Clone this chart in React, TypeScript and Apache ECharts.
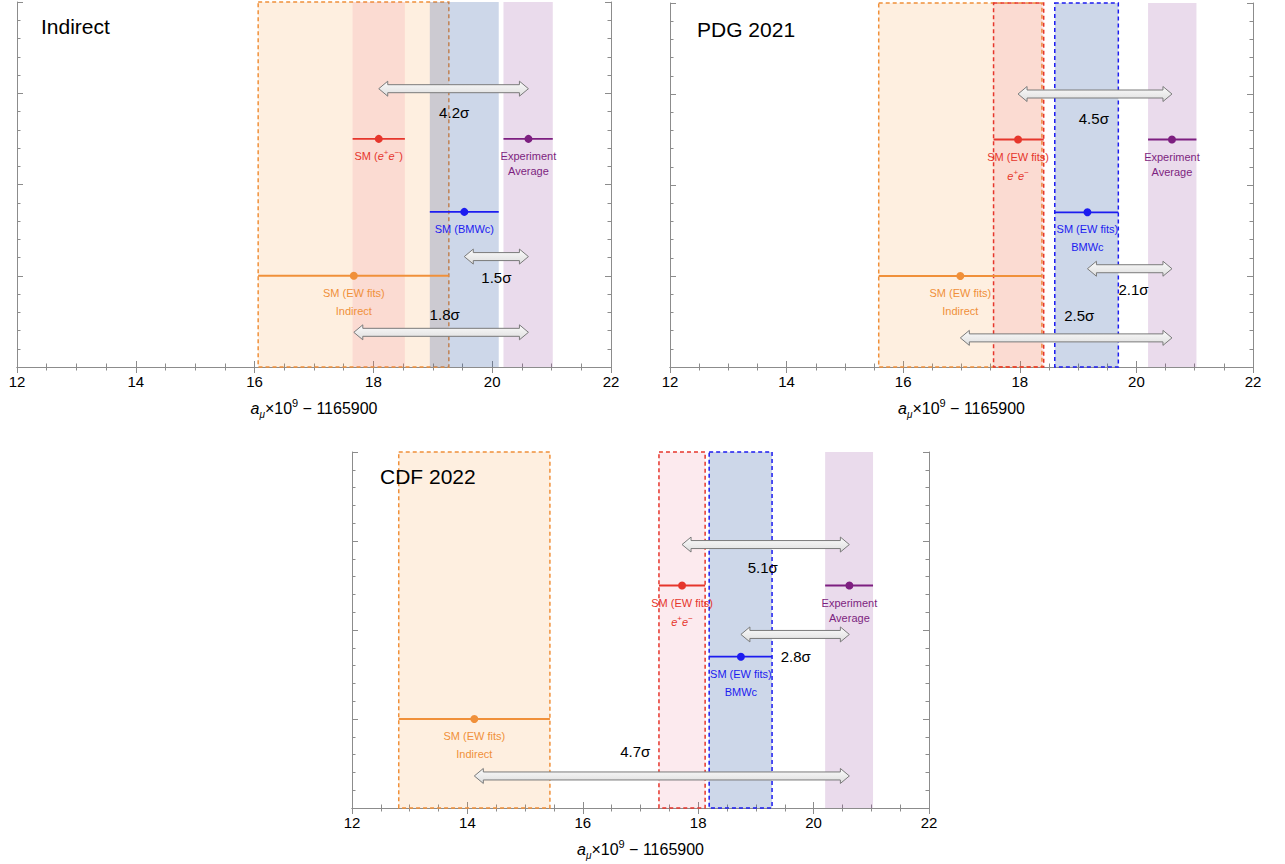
import React, { useEffect, useRef } from "react";
import * as echarts from "echarts";

const FONT = "'Liberation Sans', Arial, Helvetica, sans-serif";

const panelTitles = ["Indirect", "PDG 2021", "CDF 2022"];

// order of entries: [SM Indirect (orange), SM e+e- (red), SM BMWc (blue), Experiment (purple)]
const indirectCenter = [17.67, 18.09, 19.53, 20.61];
const indirectLow = [16.06, 17.65, 18.95, 20.19];
const indirectHigh = [19.27, 18.53, 20.11, 21.02];

const pdgCenter = [16.98, 17.97, 19.16, 20.61];
const pdgLow = [15.58, 17.55, 18.6, 20.2];
const pdgHigh = [18.38, 18.41, 19.69, 21.03];

const cdfCenter = [14.12, 17.72, 18.74, 20.62];
const cdfLow = [12.81, 17.32, 18.19, 20.2];
const cdfHigh = [15.43, 18.12, 19.28, 21.03];

const rowY = [1.0, 2.5, 1.7, 2.5];

// tensions vs experiment: [Indirect, e+e-, BMWc]
const indirectSigma = ["1.8σ", "4.2σ", "1.5σ"];
const pdgSigma = ["2.5σ", "4.5σ", "2.1σ"];
const cdfSigma = ["4.7σ", "5.1σ", "2.8σ"];

const indirectArrowRow = [0.38, 3.05, 1.21];
const pdgArrowRow = [0.32, 3.0, 1.08];
const cdfArrowRow = [0.36, 2.96, 1.95];

const indirectSigmaPos = [[19.2, 0.58], [19.36, 2.79], [20.07, 0.98]];
const pdgSigmaPos = [[19.02, 0.57], [19.27, 2.73], [19.95, 0.85]];
const cdfSigmaPos = [[16.91, 0.64], [19.12, 2.7], [19.69, 1.7]];

const indirectDashed = [true, false, false, false];
const laterDashed = [true, true, true, false];

const indirectLabels = [
  ["SM (EW fits)", "Indirect"],
  ["SM ({i|e}{sup|+}{i|e}{sup|−})"],
  ["SM (BMWc)"],
  ["Experiment", "Average"],
];
const laterLabels = [
  ["SM (EW fits)", "Indirect"],
  ["SM (EW fits)", "{i|e}{sup|+}{i|e}{sup|−}"],
  ["SM (EW fits)", "BMWc"],
  ["Experiment", "Average"],
];

const X_MIN = 12;
const X_MAX = 22;
const Y_MIN = 0;
const Y_MAX = 4;

const LINE_COLORS = ["#f0903a", "#e6362c", "#1c1cf0", "#7d1f80"];
const BAND_COLORS = [
  "rgba(245,150,50,0.15)",
  "rgba(230,50,90,0.10)",
  "rgba(40,80,160,0.23)",
  "rgba(128,40,140,0.17)",
];
const LABEL_OFFSETS = [
  [17, 35],
  [17, 36],
  [17, 35],
  [17, 32],
];

const panels = [
  {
    title: panelTitles[0],
    center: indirectCenter,
    low: indirectLow,
    high: indirectHigh,
    sigma: indirectSigma,
    arrowRow: indirectArrowRow,
    sigmaPos: indirectSigmaPos,
    dashed: indirectDashed,
    labels: indirectLabels,
    grid: { left: 17, top: 2, width: 594, height: 365 },
    titlePos: { left: 41, top: 16 },
  },
  {
    title: panelTitles[1],
    center: pdgCenter,
    low: pdgLow,
    high: pdgHigh,
    sigma: pdgSigma,
    arrowRow: pdgArrowRow,
    sigmaPos: pdgSigmaPos,
    dashed: laterDashed,
    labels: laterLabels,
    grid: { left: 670, top: 3, width: 583, height: 364 },
    titlePos: { left: 697, top: 19 },
  },
  {
    title: panelTitles[2],
    center: cdfCenter,
    low: cdfLow,
    high: cdfHigh,
    sigma: cdfSigma,
    arrowRow: cdfArrowRow,
    sigmaPos: cdfSigmaPos,
    dashed: laterDashed,
    labels: laterLabels,
    grid: { left: 352, top: 452, width: 577, height: 356 },
    titlePos: { left: 380, top: 466 },
  },
];

const AXIS_COLOR = "#8c8c8c";

function xAxes(g: number) {
  const common = {
    type: "value",
    gridIndex: g,
    min: X_MIN,
    max: X_MAX,
    interval: 2,
    splitLine: { show: false },
    axisLine: { show: true, lineStyle: { color: AXIS_COLOR, width: 1 } },
    axisTick: { show: true, inside: true, length: 6, lineStyle: { color: AXIS_COLOR } },
    minorTick: { show: true, splitNumber: 4, length: 3.5, lineStyle: { color: AXIS_COLOR } },
    minorSplitLine: { show: false },
  };
  return [
    {
      ...common,
      position: "bottom",
      axisLabel: { show: true, fontSize: 15, color: "#000", fontFamily: FONT, margin: 7 },
      name: "{i|a}{sub|μ}{n|×10}{sup|9}{n| − 1165900}",
      nameLocation: "middle",
      nameGap: 30,
      nameTextStyle: {
        color: "#000",
        fontFamily: FONT,
        fontSize: 16,
        rich: {
          i: { fontStyle: "italic", fontSize: 16, fontFamily: FONT, color: "#000", lineHeight: 22, verticalAlign: "middle" },
          sub: { fontStyle: "italic", fontSize: 10, fontFamily: FONT, color: "#000", lineHeight: 22, verticalAlign: "bottom" },
          sup: { fontSize: 11, fontFamily: FONT, color: "#000", lineHeight: 22, verticalAlign: "top" },
          n: { fontSize: 16, fontFamily: FONT, color: "#000", lineHeight: 22, verticalAlign: "middle" },
        },
      },
    },
    {
      ...common,
      position: "top",
      axisLabel: { show: false },
    },
  ];
}

function yAxes(g: number) {
  const common = {
    type: "value",
    gridIndex: g,
    min: Y_MIN,
    max: Y_MAX,
    interval: 1,
    splitLine: { show: false },
    axisLine: { show: true, lineStyle: { color: AXIS_COLOR, width: 1 } },
    axisTick: { show: true, inside: true, length: 6, lineStyle: { color: AXIS_COLOR } },
    minorTick: { show: true, splitNumber: 5, length: 3.5, lineStyle: { color: AXIS_COLOR } },
    axisLabel: { show: false },
  };
  return [
    { ...common, position: "left" },
    { ...common, position: "right" },
  ];
}

function panelSeries(p: any, g: number) {
  const axisIdx = { xAxisIndex: 2 * g, yAxisIndex: 2 * g };
  const bands = {
    type: "custom",
    ...axisIdx,
    clip: false,
    z: 1,
    data: p.center.map((_: number, i: number) => [p.low[i], p.high[i], i]),
    renderItem: (params: any, api: any) => {
      const i = api.value(2);
      const a = api.coord([api.value(0), Y_MAX]);
      const b = api.coord([api.value(1), Y_MIN]);
      return {
        type: "rect",
        shape: { x: a[0], y: a[1], width: b[0] - a[0], height: b[1] - a[1] },
        style: {
          fill: BAND_COLORS[i],
          stroke: p.dashed[i] ? LINE_COLORS[i] : null,
          lineWidth: 1.5,
          lineDash: [4, 3],
        },
      };
    },
  };
  const expIdx = 3;
  const arrows = {
    type: "custom",
    ...axisIdx,
    clip: false,
    z: 2,
    data: p.arrowRow.map((y: number, i: number) => [p.center[i], p.center[expIdx], y]),
    renderItem: (params: any, api: any) => {
      const a = api.coord([api.value(0), api.value(2)]);
      const b = api.coord([api.value(1), api.value(2)]);
      const y = a[1];
      const hs = 4;
      const hh = 7.5;
      const hl = 9;
      const pts = [
        [a[0], y],
        [a[0] + hl, y - hh],
        [a[0] + hl, y - hs],
        [b[0] - hl, y - hs],
        [b[0] - hl, y - hh],
        [b[0], y],
        [b[0] - hl, y + hh],
        [b[0] - hl, y + hs],
        [a[0] + hl, y + hs],
        [a[0] + hl, y + hh],
      ];
      return {
        type: "polygon",
        shape: { points: pts },
        style: {
          fill: new echarts.graphic.LinearGradient(0, 0, 0, 1, [
            { offset: 0, color: "#fbfbfb" },
            { offset: 1, color: "#dedede" },
          ]),
          stroke: "#7a7a7a",
          lineWidth: 1,
        },
      };
    },
  };
  const points = {
    type: "custom",
    ...axisIdx,
    clip: false,
    z: 3,
    data: p.center.map((c: number, i: number) => [c, rowY[i], p.low[i], p.high[i], i]),
    renderItem: (params: any, api: any) => {
      const i = api.value(4);
      const col = LINE_COLORS[i];
      const c = api.coord([api.value(0), api.value(1)]);
      const l = api.coord([api.value(2), api.value(1)]);
      const h = api.coord([api.value(3), api.value(1)]);
      const texts = p.labels[i].map((t: string, k: number) => ({
        type: "text",
        x: c[0],
        y: c[1] + LABEL_OFFSETS[i][k],
        style: {
          text: t,
          fill: col,
          fontSize: 11,
          fontFamily: FONT,
          align: "center",
          verticalAlign: "middle",
          rich: {
            i: { fontStyle: "italic", fill: col, fontSize: 11, fontFamily: FONT, lineHeight: 15, verticalAlign: "middle" },
            sup: { fill: col, fontSize: 8, fontFamily: FONT, lineHeight: 9, verticalAlign: "top" },
          },
        },
      }));
      return {
        type: "group",
        children: [
          {
            type: "line",
            shape: { x1: l[0], y1: l[1], x2: h[0], y2: h[1] },
            style: { stroke: col, lineWidth: 1.8 },
          },
          { type: "circle", shape: { cx: c[0], cy: c[1], r: 4 }, style: { fill: col } },
          ...texts,
        ],
      };
    },
  };
  const sigmas = {
    type: "custom",
    ...axisIdx,
    clip: false,
    z: 4,
    data: p.sigmaPos.map((s: number[], i: number) => [s[0], s[1], i]),
    renderItem: (params: any, api: any) => {
      const i = api.value(2);
      const c = api.coord([api.value(0), api.value(1)]);
      return {
        type: "text",
        x: c[0],
        y: c[1],
        style: {
          text: p.sigma[i],
          fill: "#000",
          fontSize: 15,
          fontFamily: FONT,
          align: "center",
          verticalAlign: "middle",
        },
      };
    },
  };
  return [bands, arrows, points, sigmas];
}

export default function App() {
  const ref = useRef<HTMLDivElement>(null);
  useEffect(() => {
    if (!ref.current) return;
    const chart = echarts.init(ref.current, undefined, { renderer: "svg" });
    const option: any = {
      animation: false,
      backgroundColor: "#ffffff",
      title: panels.map((p) => ({
        text: p.title,
        left: p.titlePos.left,
        top: p.titlePos.top,
        padding: 0,
        textStyle: { fontSize: 21, fontWeight: "normal", color: "#000", fontFamily: FONT },
      })),
      grid: panels.map((p) => ({ ...p.grid, containLabel: false })),
      xAxis: panels.flatMap((_, g) => xAxes(g)),
      yAxis: panels.flatMap((_, g) => yAxes(g)),
      series: panels.flatMap((p, g) => panelSeries(p, g)),
    };
    chart.setOption(option);
    return () => chart.dispose();
  }, []);
  return (
    <div
      ref={ref}
      style={{ position: "absolute", left: 0, top: 0, width: 1285, height: 864, background: "#fff" }}
    />
  );
}
